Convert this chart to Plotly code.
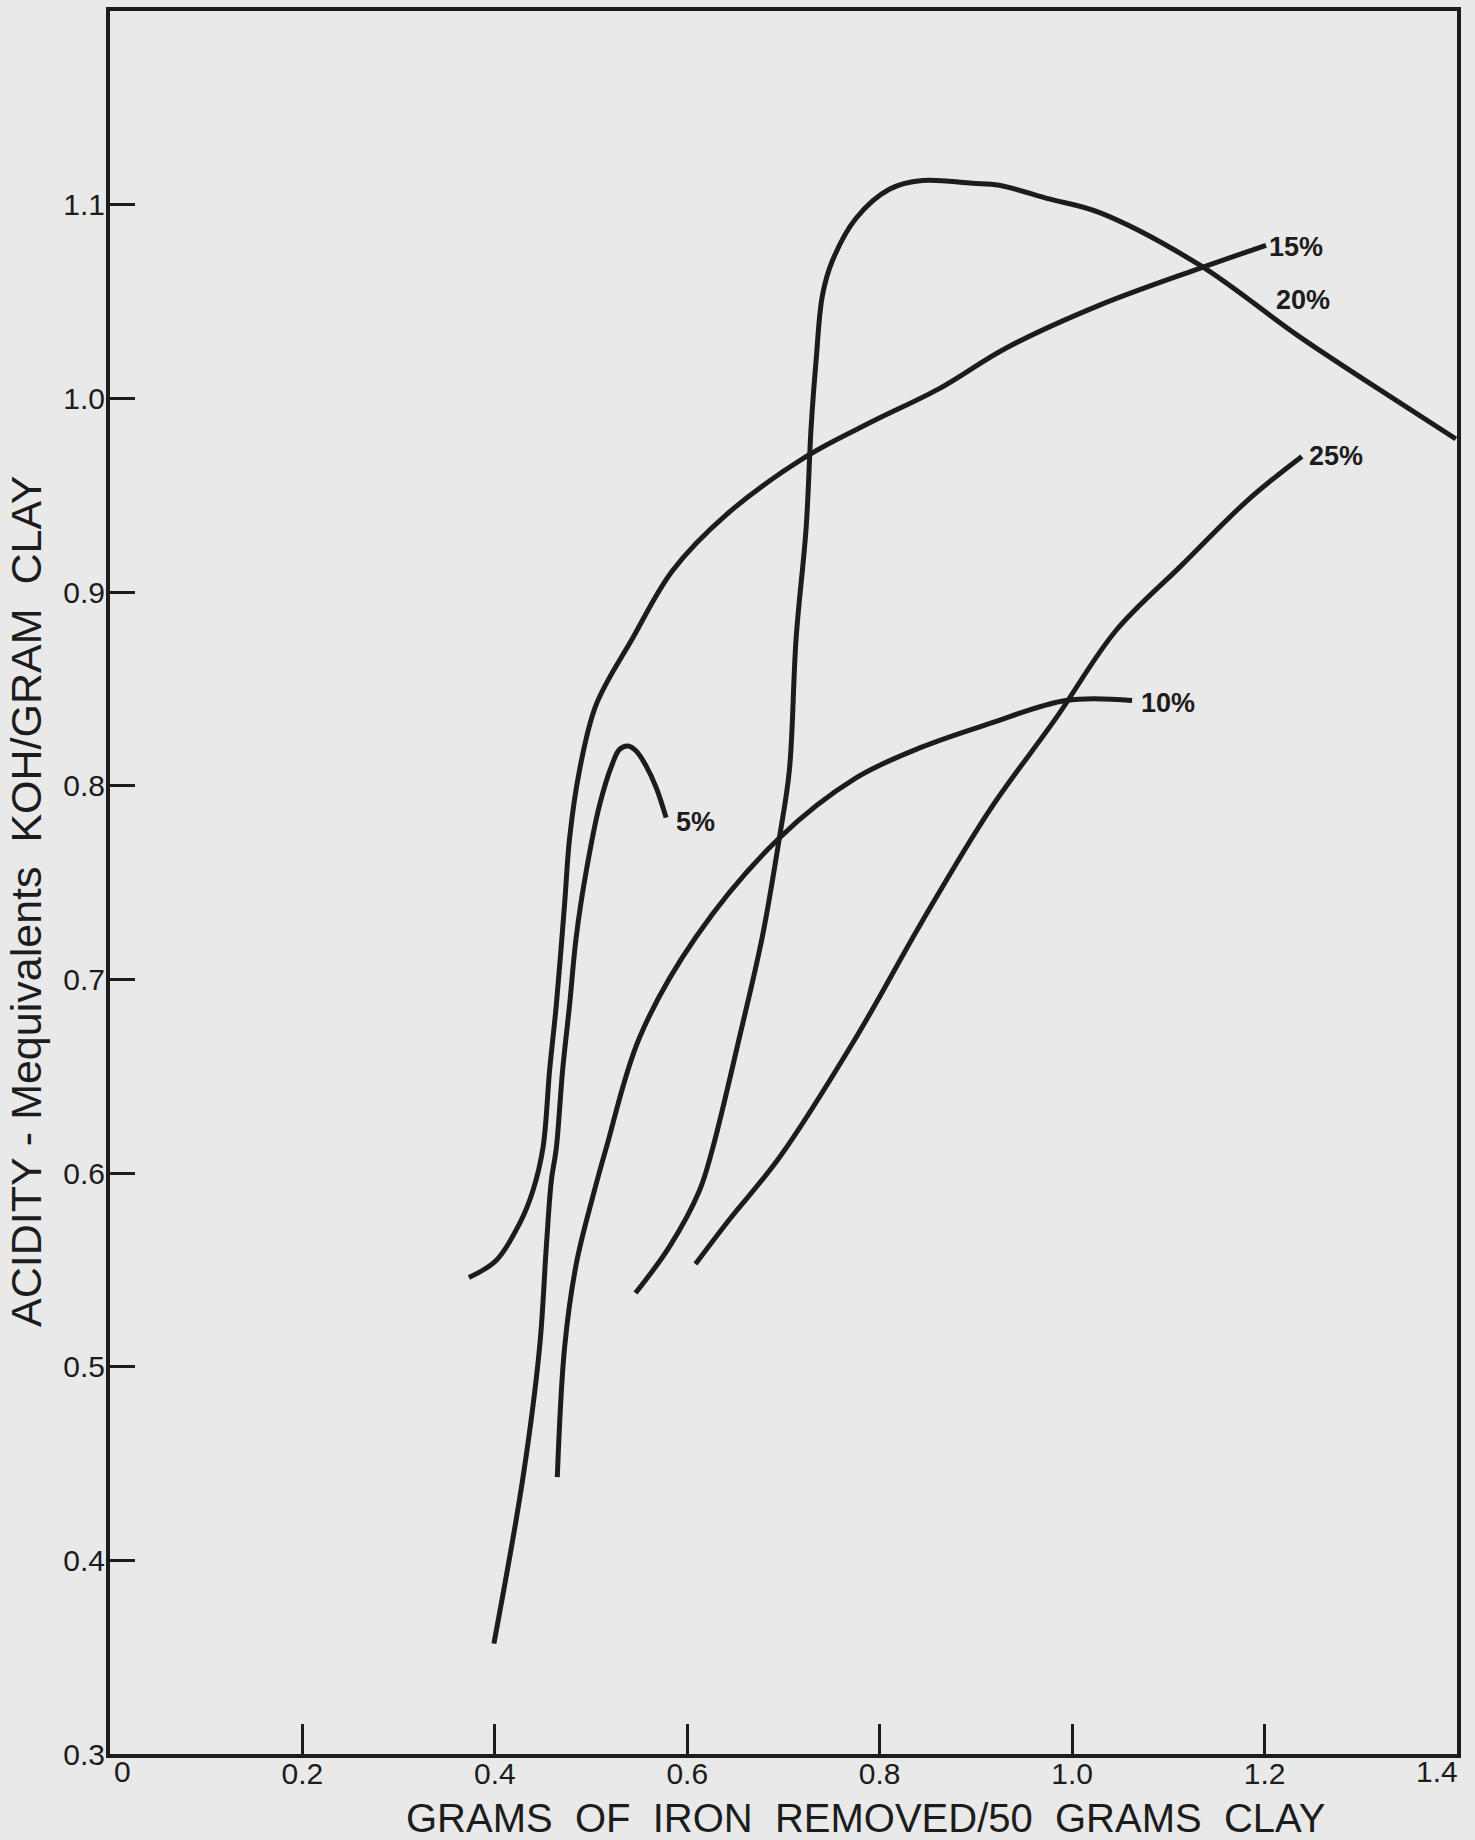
import plotly.graph_objects as go

# ---- tick positions / labels ----
x_tickvals = [0, 0.2, 0.4, 0.6, 0.8, 1.0, 1.2, 1.4]
x_ticktext = ["0", "0.2", "0.4", "0.6", "0.8", "1.0", "1.2", "1.4"]
y_tickvals = [0.3, 0.4, 0.5, 0.6, 0.7, 0.8, 0.9, 1.0, 1.1]
y_ticktext = ["0.3", "0.4", "0.5", "0.6", "0.7", "0.8", "0.9", "1.0", "1.1"]

# ---- curves (grams of iron removed / 50 g clay  vs  acidity) ----
acid_5_x = [0.399, 0.429, 0.4465, 0.4535, 0.4587, 0.4639, 0.4704, 0.4777, 0.4846, 0.495,
            0.5088, 0.5227, 0.5296, 0.5382, 0.5469, 0.5573, 0.5677, 0.578]
acid_5_y = [0.357, 0.442, 0.510, 0.562, 0.596, 0.613, 0.653, 0.687, 0.722, 0.756,
            0.790, 0.812, 0.8187, 0.8205, 0.8179, 0.8101, 0.799, 0.7835]

acid_10_x = [0.4649, 0.4725, 0.4846, 0.5019, 0.5158, 0.5504, 0.6092, 0.6957, 0.7754,
             0.8442, 0.9138, 0.9935, 1.0623]
acid_10_y = [0.443, 0.510, 0.553, 0.588, 0.613, 0.670, 0.722, 0.773, 0.804,
             0.820, 0.832, 0.844, 0.844]

acid_15_x = [0.373, 0.4016, 0.4258, 0.4396, 0.450, 0.4569, 0.4639, 0.4725, 0.4777, 0.488,
             0.5054, 0.543, 0.5846, 0.6407, 0.7238, 0.7923, 0.8619, 0.9315, 1.028, 1.1319, 1.2015]
acid_15_y = [0.546, 0.555, 0.574, 0.591, 0.613, 0.653, 0.687, 0.739, 0.773, 0.808,
             0.842, 0.876, 0.911, 0.940, 0.970, 0.988, 1.005, 1.026, 1.048, 1.067, 1.079]

acid_20_x = [0.5462, 0.5815, 0.6127, 0.6265, 0.6542, 0.678, 0.6957, 0.7061, 0.7131, 0.7235,
             0.7287, 0.7338, 0.7404, 0.7508, 0.7754, 0.81, 0.8442, 0.8962, 0.9242, 0.976,
             1.028, 1.1319, 1.2357, 1.3396, 1.3988]
acid_20_y = [0.538, 0.562, 0.591, 0.613, 0.670, 0.722, 0.773, 0.808, 0.876, 0.933,
             0.985, 1.019, 1.053, 1.071, 1.093, 1.108, 1.1125, 1.111, 1.110, 1.103,
             1.096, 1.069, 1.032, 0.998, 0.979]

acid_25_x = [0.6085, 0.6438, 0.6957, 0.7754, 0.8442, 0.9138, 0.9834, 1.0454, 1.1142, 1.1838, 1.2388]
acid_25_y = [0.553, 0.576, 0.608, 0.670, 0.730, 0.787, 0.835, 0.880, 0.914, 0.948, 0.970]

curve_names = ["5%", "10%", "15%", "20%", "25%"]
curve_xs = [acid_5_x, acid_10_x, acid_15_x, acid_20_x, acid_25_x]
curve_ys = [acid_5_y, acid_10_y, acid_15_y, acid_20_y, acid_25_y]

# label anchor points (left edge, vertical middle) for each curve label
label_x = [0.5867, 1.0696, 1.2028, 1.2098, 1.2444]
label_y = [0.781, 0.8428, 1.0782, 1.0507, 0.970]

INK = "#1c1c1c"
PAPER = "#e9e9e9"
FONT = "Liberation Sans, Arial, sans-serif"
TICK_FONT = dict(family=FONT, size=30, color=INK)

fig = go.Figure()
for name, xs, ys in zip(curve_names, curve_xs, curve_ys):
    fig.add_trace(go.Scatter(
        x=xs, y=ys, mode="lines", name=name,
        line=dict(color=INK, width=5, shape="spline", smoothing=1.0),
        hoverinfo="x+y+name",
    ))

for name, lx, ly in zip(curve_names, label_x, label_y):
    fig.add_annotation(x=lx, y=ly, xref="x", yref="y", text=name, showarrow=False,
                       xanchor="left", yanchor="middle",
                       font=dict(family=FONT, size=27, color=INK, weight="bold"))

# the two end tick labels of the x axis sit inside the frame corners (as in the original)
axis_ticktext_shown = [""] + x_ticktext[1:-1] + [""]
fig.add_annotation(x=x_tickvals[0], y=-0.0098, xref="x", yref="paper", text=x_ticktext[0],
                   showarrow=False, xanchor="left", yanchor="middle", xshift=2, font=TICK_FONT)
fig.add_annotation(x=x_tickvals[-1], y=-0.0098, xref="x", yref="paper", text=x_ticktext[-1],
                   showarrow=False, xanchor="right", yanchor="middle", xshift=3, font=TICK_FONT)

fig.add_annotation(x=0.5612, y=-0.037, xref="paper", yref="paper",
                   text="GRAMS  OF  IRON  REMOVED/50  GRAMS  CLAY", showarrow=False,
                   xanchor="center", yanchor="middle",
                   font=dict(family=FONT, size=40, color=INK))
fig.add_annotation(x=-0.0624, y=0.4894, xref="paper", yref="paper",
                   text="ACIDITY - Mequivalents  KOH/GRAM  CLAY", showarrow=False,
                   textangle=-90, xanchor="center", yanchor="middle",
                   font=dict(family=FONT, size=43, color=INK))

axis_common = dict(showgrid=False, zeroline=False, showline=True, linewidth=4,
                   linecolor=INK, mirror=True, ticks="inside", tickwidth=3,
                   tickcolor=INK, tickfont=TICK_FONT,
                   ticklabeloverflow="allow", automargin=False)

fig.update_xaxes(range=[0, 1.4], tickmode="array", tickvals=x_tickvals,
                 ticktext=axis_ticktext_shown, ticklen=30, ticklabelstandoff=-10, **axis_common)
fig.update_yaxes(range=[0.3, 1.2], tickmode="array", tickvals=y_tickvals,
                 ticktext=y_ticktext, ticklen=25, ticklabelstandoff=-5, **axis_common)

fig.update_layout(width=1475, height=1840,
                  margin=dict(l=110, r=18, t=11, b=86, autoexpand=False),
                  paper_bgcolor=PAPER, plot_bgcolor=PAPER,
                  showlegend=False)

fig.write_html(
    "out.html",
    config={"displayModeBar": False},
    post_script="document.body.style.margin='0';document.body.style.background='%s';" % PAPER,
)
